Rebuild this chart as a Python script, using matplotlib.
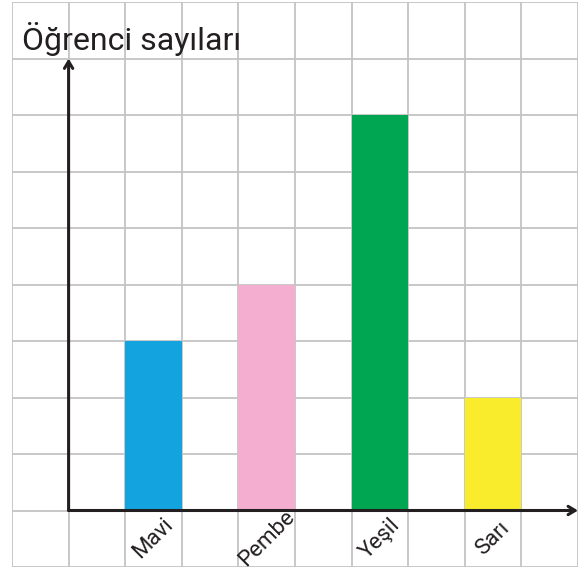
import matplotlib
matplotlib.use("Agg")
import matplotlib.pyplot as plt

# data
categories = ["Mavi", "Pembe", "Yeşil", "Sarı"]
values = [3, 4, 7, 2]
colors = ["#13a3de", "#f4aecf", "#00a651", "#f8ec2d"]
positions = [1.5, 3.5, 5.5, 7.5]
title = "Öğrenci sayıları"

fig = plt.figure(figsize=(5.86, 5.72), dpi=100)
ax = fig.add_axes([12 / 586, 5 / 572, 566 / 586, 565 / 572])
ax.set_xlim(-1, 9)
ax.set_ylim(-1, 9)

# square grid
for v in range(-1, 10):
    ax.axvline(v, color="#c4c4c4", lw=1.3, zorder=0)
    ax.axhline(v, color="#c4c4c4", lw=1.3, zorder=0)

ax.bar(positions, values, width=1.0, color=colors, zorder=2)

# axes with arrows
arrow = dict(arrowstyle="->,head_length=0.5,head_width=0.3", color="#231f20", lw=2.2,
             shrinkA=0, shrinkB=0)
ax.annotate("", xy=(0, 8), xytext=(0, 0), arrowprops=arrow, zorder=3)
ax.annotate("", xy=(9, 0), xytext=(0, 0), arrowprops=arrow, zorder=3)

for x, name in zip(positions, categories):
    ax.text(x, -0.5, name, rotation=45, ha="center", va="center",
            fontsize=16, family="Roboto", color="#231f20")

ax.text(-0.83, 8.15, title, fontsize=23, family="Roboto", color="#231f20",
        ha="left", va="baseline")

ax.axis("off")
fig.savefig("out.png", dpi=100)
